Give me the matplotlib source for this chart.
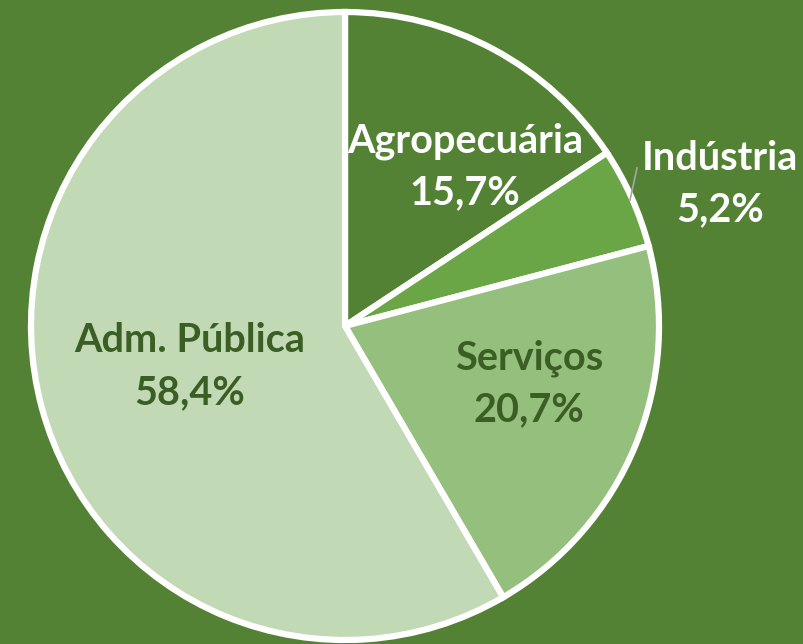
import matplotlib
matplotlib.use("Agg")
import matplotlib.pyplot as plt

categories = ["Agropecuária", "Indústria", "Serviços", "Adm. Pública"]
values = [15.7, 5.2, 20.7, 58.4]
labels_pct = ["15,7%", "5,2%", "20,7%", "58,4%"]
colors = ["#548235", "#6AA546", "#94BF7D", "#C1D9B4"]
text_colors = ["white", "white", "#3B5E25", "#3B5E25"]

W, H = 804, 644
fig = plt.figure(figsize=(W / 100, H / 100), dpi=100)
fig.patch.set_facecolor("#548235")
ax = fig.add_axes([0, 0, 1, 1])
ax.set_facecolor("#548235")

cx, cy, r = 345, H - 326, 314
ax.pie(values, colors=colors, startangle=90, counterclock=False,
       center=(cx, cy), radius=r,
       wedgeprops=dict(edgecolor="white", linewidth=4.5), frame=True)
ax.set_xlim(0, W)
ax.set_ylim(0, H)
ax.set_aspect("equal")
ax.axis("off")

# label positions (pixel coords from top): name line y, percent line y
pos = [(465, 141), (720, 158), (529, 358), (190, 341)]
font = dict(family="Lato", fontweight="bold", fontsize=28.5)
for (x, y), name, pct, tc in zip(pos, categories, labels_pct, text_colors):
    ax.text(x, H - y, name, ha="center", va="center", color=tc, **font)
    ax.text(x, H - y - 52, pct, ha="center", va="center", color=tc, **font)

# leader line for Indústria
ax.plot([630, 637], [H - 200, H - 168], color="#A6A6A6", lw=1.2)

fig.savefig("out.png", dpi=100, facecolor=fig.get_facecolor())
